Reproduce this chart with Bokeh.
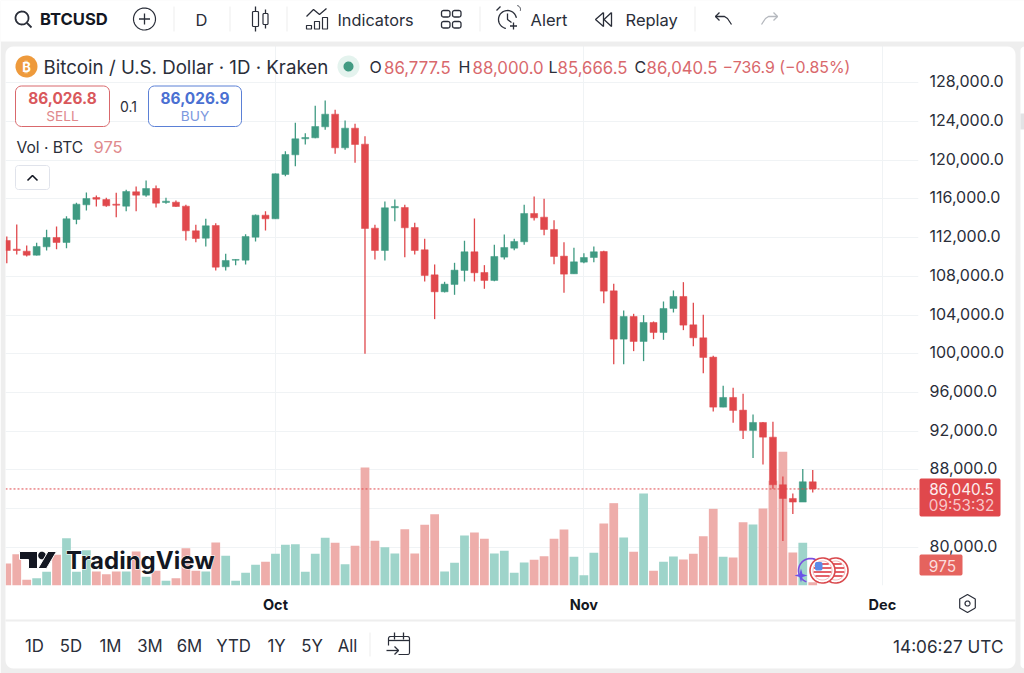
import numpy as np
import pandas as pd
from bokeh.embed import file_html
from bokeh.resources import INLINE
from bokeh.plotting import figure
from bokeh.core.properties import value
from bokeh.models import (ColumnDataSource, Range1d, LinearAxis, FixedTicker, NumeralTickFormatter,
                          DatetimeTickFormatter, Span)

W, H = 1024, 673
GREEN, RED = "#3F9A82", "#E0484C"
VGREEN, VRED = "#9ED4CA", "#EEADAA"
TXT = "#2A2E39"
SOFT = "#D9686C"
FONT = "Inter"

dates = pd.date_range("2025-09-04", periods=82, freq="D")
opens = [111711,110815,110609,110196,111056,112020,111504,113880,115395,116152,115945,115463,115257,116737,116393,117082,115636,115670,115257,112709,111952,113260,108991,109679,109679,112055,114327,113949,118529,120560,122213,122316,123452,124760,121283,123314,121662,112985,110679,115086,115120,113054,110747,108165,106409,107167,108613,110541,108406,107580,109990,110920,111574,114500,114122,112850,110092,108267,109472,109954,110574,106511,101519,103860,101278,103240,102207,104686,105926,102999,101657,99660,94495,95494,94185,92085,92911,91396,86473,85061,84683,86777.5]
highs = [112124,113363,111194,111470,112812,113157,114224,115601,116669,116359,116118,116634,116944,117288,117908,117392,116118,115842,115395,113329,113949,113501,110333,109783,112365,114396,114740,118632,120939,123865,122798,125621,126172,125208,124106,123762,122488,113330,115740,115946,115396,113536,111884,109233,107442,109405,111677,113984,109164,111264,112331,111884,115396,116256,116015,113800,111538,110953,110402,111090,110643,107234,104480,104135,103998,103344,105409,106546,107406,105272,104032,99797,96699,96492,95872,93738,92946,92980,87334,85578,88091,88000]
lows = [109369,110265,110058,110150,110678,110815,110919,113398,114809,115222,115188,114121,114740,114740,116221,115119,115498,115188,111711,111538,111091,108612,108612,109163,109232,111607,112743,113949,118356,119389,121627,122282,123142,120663,121076,119734,100005,109749,109646,113708,109990,110265,107477,103586,106340,106099,107477,107477,106719,107510,109749,110713,111264,113777,112262,109266,106305,108267,109369,109472,105237,98937,98937,100279,99246,101519,101450,104273,102448,100796,98007,94048,94495,92877,91190,89227,88573,86060,80654,83443,84683,85666.5]
closes = [110678,110678,110196,111091,112020,111504,113949,115463,116049,115980,115291,115360,116772,116393,117082,115567,115773,115222,112709,111917,113226,108956,109645,109748,112124,114327,113949,118597,120594,122213,122350,123487,124760,121283,123314,121627,112951,110679,115086,115223,113020,110679,108096,106409,107201,108647,110541,108372,107580,110059,110988,111608,114500,114053,112848,110057,108233,109507,109954,110539,106477,101519,103860,101278,103240,102207,104686,105926,102965,101657,99625,94495,95494,94151,92085,92911,91396,86473,85061,84683,86783,86040.5]
volumes = [6600,9400,1700,2200,4100,9200,14200,4100,10600,4200,3400,4200,4200,10200,2600,4400,1400,2200,11200,4400,4200,12900,8900,1400,3800,6200,7100,9500,12200,12400,4100,9500,14300,12800,6400,11900,35400,13400,11500,9600,16900,9600,18200,21400,4200,6800,15000,15900,14000,9600,10400,3800,6900,7700,8800,14000,16800,8600,3100,9800,18600,24700,14400,10100,27600,4400,7100,8700,7800,9500,14800,23000,8600,8400,19000,18300,23100,31400,40100,9900,12800,975]
price_ticks = [80000,84000,88000,92000,96000,100000,104000,108000,112000,116000,120000,124000,128000]
month_ticks = ["2025-10-01","2025-11-01","2025-12-01"]
last_close = closes[-1]
max_volume_range = 162300
price_low, price_high = 76068, 131957

day_ms = 86400000
up = [c >= o for o, c in zip(opens, closes)]
src = ColumnDataSource(dict(
    x=dates, o=opens, h=highs, l=lows, c=closes, v=volumes,
    top=[max(a, b) for a, b in zip(opens, closes)],
    bot=[min(a, b) for a, b in zip(opens, closes)],
    color=[GREEN if u else RED for u in up],
    vcolor=[VGREEN if u else VRED for u in up],
))

xr = Range1d(dates[0] - pd.Timedelta(days=0.13), dates[0] + pd.Timedelta(days=91.63))
chart = figure(width=W, height=H, x_axis_type="datetime", x_range=xr, y_range=Range1d(price_low, price_high),
               toolbar_location=None, output_backend="svg",
               min_border_left=5, min_border_right=106, min_border_top=44, min_border_bottom=88,
               background_fill_color="white", border_fill_color="white", outline_line_color=None)
# the price scale's labels sit a pixel and a half above their grid lines
chart.extra_y_ranges = {"vol": Range1d(0, max_volume_range), "labels": Range1d(price_low - 155, price_high - 155)}
chart.vbar(x="x", top="v", bottom=0, width=0.88 * day_ms, source=src, y_range_name="vol",
           fill_color="vcolor", line_color=None)
chart.segment(x0="x", x1="x", y0="l", y1="h", line_color="color", line_width=1.3, source=src)
chart.vbar(x="x", top="top", bottom="bot", width=0.7 * day_ms, fill_color="color", line_color="color",
           line_width=0.5, source=src)
chart.add_layout(Span(location=last_close, dimension="width", line_color=RED, line_width=1, line_dash="2 2"))

chart.yaxis.visible = False
ax = LinearAxis(ticker=FixedTicker(ticks=price_ticks), formatter=NumeralTickFormatter(format="0,0.0"),
                y_range_name="labels")
ax.major_label_overrides = {84000: ""}
ax.major_tick_line_color = None
ax.minor_tick_line_color = None
ax.major_tick_out = 0
ax.major_tick_in = 0
ax.axis_line_color = None
ax.major_label_standoff = 11
ax.major_label_text_font = FONT
ax.major_label_text_font_size = "16px"
ax.major_label_text_color = TXT
chart.add_layout(ax, "right")

xa = chart.xaxis[0]
xa.ticker = FixedTicker(ticks=[pd.Timestamp(d).value // 10**6 for d in month_ticks])
xa.formatter = DatetimeTickFormatter(months="%b", days="%b", hours="%b", minutes="%b", seconds="%b", years="%b",
                                     context=None)
xa.major_tick_line_color = None
xa.minor_tick_line_color = None
xa.major_tick_out = 0
xa.major_tick_in = 0
xa.axis_line_color = None
xa.major_label_standoff = 10
xa.major_label_text_font = FONT
xa.major_label_text_font_size = "14.5px"
xa.major_label_text_font_style = "bold"
xa.major_label_text_color = "#131722"
chart.xgrid.ticker = xa.ticker
chart.ygrid.ticker = FixedTicker(ticks=price_ticks)
chart.xgrid.grid_line_color = "#F0F3F5"
chart.ygrid.grid_line_color = "#F0F3F5"
chart.styles = {"position": "absolute", "left": "0px", "top": "0px"}

# ---- interface layer: everything around the chart, in page pixels
ov = figure(width=W, height=H, x_range=Range1d(0, W), y_range=Range1d(H, 0), x_axis_type=None, y_axis_type=None,
            toolbar_location=None, output_backend="svg", min_border=0, outline_line_color=None,
            background_fill_color=None, border_fill_color=None)
ov.grid.visible = False
ov.styles = {"position": "absolute", "left": "0px", "top": "0px"}


def rr(x0, y0, x1, y1, r):
    xs, ys = [], []
    for cx, cy, a0 in [(x1 - r, y0 + r, -90), (x1 - r, y1 - r, 0), (x0 + r, y1 - r, 90), (x0 + r, y0 + r, 180)]:
        a = np.radians(np.linspace(a0, a0 + 90, 7))
        xs += list(cx + r * np.cos(a))
        ys += list(cy + r * np.sin(a))
    return xs, ys


def box(x0, y0, x1, y1, r=0, fill="white", line=None, lw=1):
    xs, ys = rr(x0, y0, x1, y1, r) if r else ([x0, x1, x1, x0], [y0, y0, y1, y1])
    ov.patch(xs, ys, fill_color=fill, line_color=line, line_width=lw)


def ln(xs, ys, color=TXT, lw=1.3):
    ov.line(xs, ys, line_color=color, line_width=lw)


def arc(cx, cy, r, a0, a1, color=TXT, lw=1.3):
    a = np.radians(np.linspace(a0, a1, 30))
    ln(list(cx + r * np.cos(a)), list(cy + r * np.sin(a)), color, lw)


def disc(cx, cy, r, fill, line=None, lw=1):
    a = np.radians(np.linspace(0, 360, 48))
    ov.patch(list(cx + r * np.cos(a)), list(cy + r * np.sin(a)), fill_color=fill, line_color=line, line_width=lw)


def t(x, y, s, size, color=TXT, align="left", style="normal", **kw):
    ov.text(x=[x], y=[y], text=[s], text_font=value(FONT), text_font_size=f"{size}px", text_color=color,
            text_align=align, text_baseline="middle", text_font_style=style, **kw)


# gutters
ox, oy = [0, W, W, 0], [0, 0, H, H]
hx, hy = rr(5, 46, 1015, 668, 8)
ov.multi_polygons(xs=[[[ox, hx]]], ys=[[[oy, hy]]], fill_color="#EEEEEE", line_color=None)
box(0, 0, W, 41)
box(1020, 46, 1030, 668, 4)
box(1020, 113, 1024, 129, 0, fill="#E2E3E5")
ln([5, 1015], [620, 620], "#EEEEEE", 2)

# toolbar
disc(21.5, 17.5, 6.5, None, TXT, 1.8)
ln([26.5, 31], [22.5, 27], TXT, 1.8)
t(39.5, 18.5, "BTCUSD", 16.6, "#131722", style="bold")
disc(144, 18.5, 11, None, TXT, 1.2)
ln([138.5, 149.5], [18.5, 18.5]); ln([144, 144], [13, 24])
for sx in (173.5, 229.5, 286.5, 479.5, 694.5):
    ln([sx, sx], [6, 31], "#EDEDED", 1)
t(201, 19, "D", 16.5, TXT, "center")
box(252, 11, 258, 26, 1, fill=None, line=TXT, lw=1.2)
ln([255, 255], [6, 11]); ln([255, 255], [26, 31])
box(262.5, 13, 267.5, 24, 1, fill=None, line=TXT, lw=1.2)
ln([265, 265], [9, 13]); ln([265, 265], [24, 28])
ln([306, 313, 319, 326], [16, 9, 14, 8])
for x0, y0 in ((306, 25), (314, 21), (322, 17)):
    box(x0, y0, x0 + 5, 28.5, 0, fill=None, line=TXT, lw=1.2)
t(337, 19, "Indicators", 16.3, TXT)
for x0, y0 in ((441, 10), (452, 10), (441, 21), (452, 21)):
    box(x0, y0, x0 + 8.5, y0 + 6.5, 2, fill=None, line=TXT, lw=1.3)
arc(507, 19, 9, 100, 350)
ln([507, 507, 511], [13, 19, 22])
ln([496, 500], [10, 6]); arc(516, 9, 4, -80, 20, TXT, 1); ln([513, 513], [22, 29]); ln([509.5, 516.5], [25.5, 25.5])
t(530, 19, "Alert", 16.5, TXT)
ln([603, 595, 603, 603], [12, 19, 26, 12]); ln([611, 603.5, 611, 611], [12, 19, 26, 12])
t(625, 19, "Replay", 16.5, TXT)
ln([719, 715, 719], [12, 16, 20]); ln([715, 724, 727, 731], [16, 16, 18, 24])
ln([773, 777, 773], [12, 16, 20], "#B5B8BE"); ln([777, 768, 765, 761], [16, 16, 18, 24], "#B5B8BE")

# legend
disc(26, 66, 11, "#EE9A3C")
t(26, 66.5, "₿", 13, "#FFFFFF", "center", "bold")
t(43, 66.5, "Bitcoin / U.S. Dollar · 1D · Kraken", 18.7, TXT)
disc(348, 66, 11, "#E4F3EE")
disc(348, 66, 5, "#429B83")
for x, s, color, size in ((369, "O", TXT, 16), (383.5, "86,777.5", SOFT, 16.8), (458, "H", TXT, 16), (472, "88,000.0", SOFT, 16.8),
                          (548, "L", TXT, 16), (557, "85,666.5", SOFT, 16.8), (634, "C", TXT, 16), (646, "86,040.5", SOFT, 16.8),
                          (722, "−736.9 (−0.85%)", SOFT, 15.9)):
    t(x, 66.5, s, size, color)
box(15, 85.5, 109, 126, 6, fill="white", line=SOFT, lw=1)
t(62, 97.5, "86,026.8", 15.4, "#D9585C", "center", "bold")
t(62, 115, "SELL", 13.7, "#E08A8D", "center")
t(128, 106, "0.1", 14, TXT, "center")
box(148, 85.5, 241, 126, 6, fill="white", line="#5B80D6", lw=1)
t(194.5, 97.5, "86,026.9", 15.4, "#4A70D2", "center", "bold")
t(194.5, 115, "BUY", 13.7, "#7C98DE", "center")
t(16, 146.5, "Vol · BTC", 15.6, TXT)
t(93, 146.5, "975", 16.5, "#E08A8D")
box(15, 165, 49, 189, 3, fill="white", line="#E0E3EB", lw=1)
ln([27, 32, 37], [180, 175, 180], "#131722", 1.6)

# logo
t(65.5, 560, "TradingView", 24, "white", style="bold", text_outline_color="white")
t(65.5, 560, "TradingView", 24, "#131722", style="bold")
ov.patch([19, 37, 37, 28, 28, 19], [551, 551, 568, 568, 559, 559], fill_color="#131722", line_color="white", line_width=1)
disc(41.5, 555, 3.8, "#131722")
ov.patch([47.5, 56, 46, 37.5], [551, 551, 568, 568], fill_color="#131722", line_color="white", line_width=1)

# price tags
box(919, 478, 1000, 516, 2, fill=RED)
t(961, 488, "86,040.5", 15.3, "#FDEDED", "center")
t(961, 505, "09:53:32", 15.3, "#F8C6C8", "center")
box(919, 554, 962, 575, 2, fill="#E5635E")
t(942, 565, "975", 15.5, "#FBDCDC", "center")


# event markers
def coin(cx, cy):
    disc(cx, cy, 12.5, "white", "#D9484C", 1.6)
    disc(cx, cy, 9.5, "white", "#E98A8E", 0.6)
    for off in (-6.5, -2.5, 1.5, 5.5):
        half = np.sqrt(max(81 - off ** 2, 0))
        ln([cx - half, cx + half], [cy + off, cy + off], "#E4626A", 2)


arc(810, 570, 12, 110, 330, "#7A4FE0", 1.6)
coin(835, 570)
coin(822, 570)
box(814.5, 561.5, 822, 570, 2, fill="#5C8AE8")
ov.patch([800.5, 802, 807, 802, 800.5, 799, 794, 799], [568, 573.5, 575, 576.5, 582, 576.5, 575, 573.5],
         fill_color="#6A52E8", line_color=None)

# settings
a = np.radians(np.arange(30, 391, 60))
ln(list(967 + 9 * np.cos(a)), list(603 + 9 * np.sin(a)), TXT, 1.2)
disc(967, 603, 2.5, None, TXT, 1.2)

# bottom strip
for x, s in ((34, "1D"), (70.5, "5D"), (110, "1M"), (149.5, "3M"), (189, "6M"), (233, "YTD"), (276, "1Y"), (311.5, "5Y"), (347, "All")):
    t(x, 645, s, 16.8, TXT, "center")
ln([369.5, 369.5], [632, 656], "#EDEDED", 1)
box(388, 636, 409, 654, 2, fill=None, line=TXT, lw=1.2)
box(385, 645, 398, 656, 0, fill="white")
ln([394, 394], [632, 639]); ln([403, 403], [632, 639]); ln([388, 409], [640, 640])
ln([386, 398], [650, 650]); ln([394, 398, 394], [646, 650, 654])
t(1003, 645.5, "14:06:27 UTC", 17.2, TXT, "right")

open("out.html", "w").write(file_html([chart, ov], INLINE))
